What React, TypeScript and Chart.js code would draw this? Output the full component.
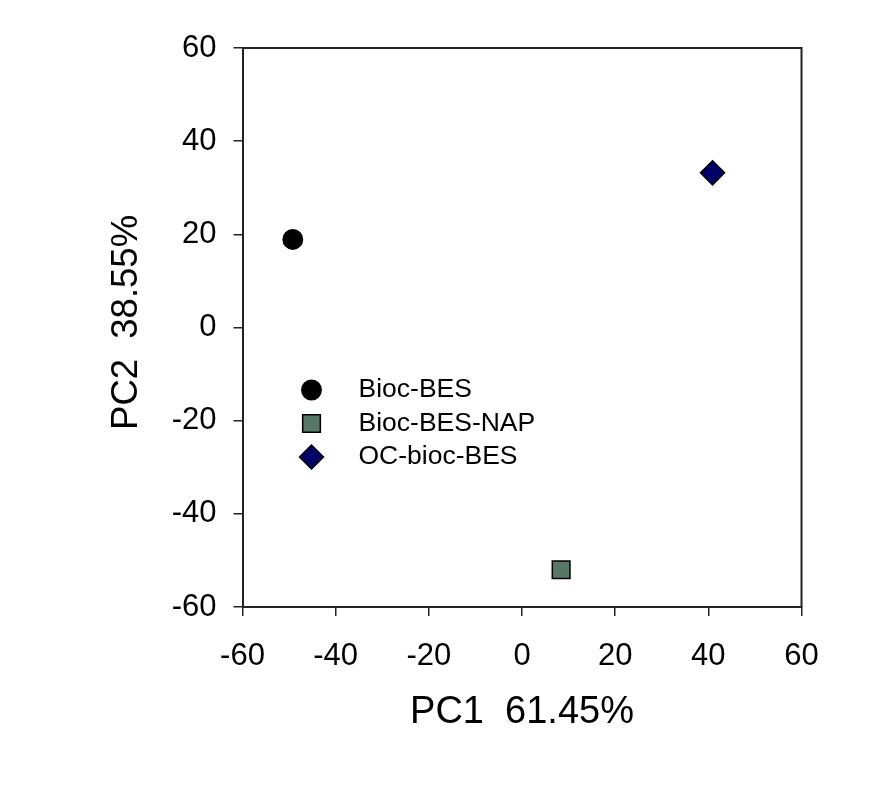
import { useEffect, useRef } from 'react';
import { Chart, registerables } from 'chart.js';
import { drawPoint } from 'chart.js/helpers';

Chart.register(...registerables);

// PCA scores
const seriesNames = ['Bioc-BES', 'Bioc-BES-NAP', 'OC-bioc-BES'];
const pc1 = [-49.2, 8.4, 40.9];
const pc2 = [18.9, -52.0, 33.2];
const pointStyles = ['circle', 'rect', 'rectRot'];
const pointRadii = [9.7, 12.5, 12];
const fillColors = ['#000000', '#577864', '#000066'];

const axisMin = -60;
const axisMax = 60;
const axisStep = 20;
const xTitle = 'PC1  61.45%';
const yTitle = ' PC2  38.55%';

const FONT = "'Liberation Sans', Arial, sans-serif";

// frame on top/right + legend inside the plot area
const framePlugin = {
  id: 'frame',
  afterDraw(chart: any) {
    const { ctx, chartArea } = chart;
    ctx.save();
    ctx.strokeStyle = '#222';
    ctx.lineWidth = 2;
    ctx.beginPath();
    ctx.moveTo(chartArea.left, chartArea.top);
    ctx.lineTo(chartArea.right, chartArea.top);
    ctx.lineTo(chartArea.right, chartArea.bottom);
    ctx.stroke();

    // legend
    const markerX = chartArea.left + 69;
    const textX = chartArea.left + 116;
    let y = chartArea.top + 342;
    ctx.font = '26.5px ' + FONT;
    ctx.textBaseline = 'middle';
    ctx.textAlign = 'left';
    chart.data.datasets.forEach((ds: any) => {
      ctx.fillStyle = ds.backgroundColor;
      ctx.strokeStyle = ds.borderColor;
      ctx.lineWidth = ds.borderWidth;
      drawPoint(ctx, { pointStyle: ds.pointStyle, radius: ds.pointRadius, borderWidth: ds.borderWidth, rotation: 0 }, markerX, y);
      ctx.fillStyle = '#000';
      ctx.fillText(ds.label, textX, y);
      y += 33.5;
    });
    ctx.restore();
  },
};

const App = () => {
  const canvasRef = useRef<HTMLCanvasElement | null>(null);

  useEffect(() => {
    document.body.style.margin = '0';
    if (!canvasRef.current) return;

    const datasets = seriesNames.map((name, i) => ({
      label: name,
      data: [{ x: pc1[i], y: pc2[i] }],
      pointStyle: pointStyles[i],
      pointRadius: pointRadii[i],
      backgroundColor: fillColors[i],
      borderColor: '#000000',
      borderWidth: 1.5,
    }));

    const tickFont = { family: FONT, size: 31 };

    const chart = new Chart(canvasRef.current, {
      type: 'scatter',
      data: { datasets },
      options: {
        animation: false,
        responsive: false,
        layout: { padding: { left: 0, right: 75.5, top: 48, bottom: 0 } },
        plugins: {
          legend: { display: false },
          tooltip: { enabled: false },
        },
        scales: {
          x: {
            type: 'linear',
            min: axisMin,
            max: axisMax,
            afterFit: (scale: any) => { scale.height = 189; },
            ticks: { stepSize: axisStep, color: '#000', font: tickFont, padding: 22, maxRotation: 0 },
            grid: { drawOnChartArea: false, drawTicks: true, tickLength: 9, color: '#222', lineWidth: 1.5 },
            border: { display: true, color: '#222', width: 2 },
            title: { display: true, text: xTitle, color: '#000', font: { family: FONT, size: 38 }, padding: { top: 0, bottom: 61 } },
          },
          y: {
            type: 'linear',
            min: axisMin,
            max: axisMax,
            afterFit: (scale: any) => { scale.width = 242.5; },
            ticks: { stepSize: axisStep, color: '#000', font: tickFont, padding: 17 },
            grid: { drawOnChartArea: false, drawTicks: true, tickLength: 9, color: '#222', lineWidth: 1.5 },
            border: { display: true, color: '#222', width: 2 },
            title: { display: true, text: yTitle, color: '#000', font: { family: FONT, size: 36.5 }, padding: { top: 105, bottom: 0 } },
          },
        },
      },
      plugins: [framePlugin],
    });
    return () => {
      chart.destroy();
    };
  }, []);

  return (
    <div style={{ width: 877, height: 796, background: '#fff' }}>
      <canvas ref={canvasRef} width={877} height={796}></canvas>
    </div>
  );
};

export default App;
